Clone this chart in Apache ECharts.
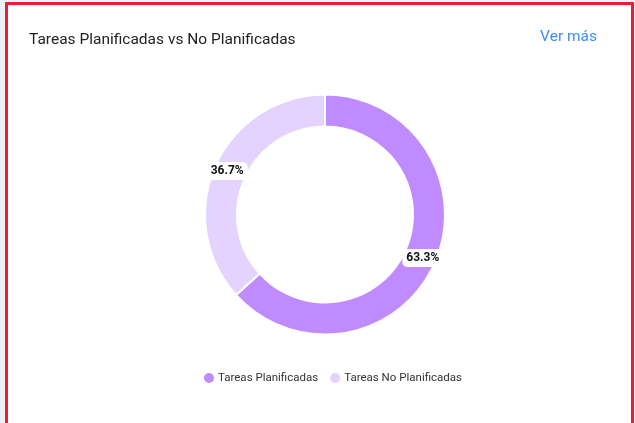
<!DOCTYPE html>
<html>
<head>
<meta charset="utf-8">
<script src="https://cdn.jsdelivr.net/npm/echarts@6/dist/echarts.min.js"></script>
<style>
  html, body { margin: 0; padding: 0; background: #eef1fa; }
  .card {
    position: absolute; left: 5px; top: 2px; width: 623px; height: 440px;
    border: 3px solid #e8202e; background: #fff; box-sizing: content-box;
  }
  #chart { position: absolute; left: 0; top: 0; width: 635px; height: 423px; }
</style>
</head>
<body>
<div class="card"></div>
<div id="chart"></div>
<script>
const titleText = 'Tareas Planificadas vs No Planificadas'
const linkText = 'Ver más'
const categories = ['Tareas Planificadas', 'Tareas No Planificadas']
const values = [63.3, 36.7]
const colors = ['#bf8bff', '#e4d3ff']

const chart = echarts.init(document.getElementById('chart'), null, { renderer: 'canvas' })

const option = {
  backgroundColor: 'transparent',
  textStyle: { fontFamily: 'Roboto' },
  title: {
    text: titleText,
    left: 24,
    top: 27,
    textStyle: { fontSize: 15.5, fontWeight: 'normal', color: '#222', fontFamily: 'Roboto' }
  },
  graphic: [{
    type: 'text',
    right: 38,
    top: 29,
    style: { text: linkText, fontSize: 15.5, fill: '#3f8cff', fontFamily: 'Roboto' }
  }],
  legend: {
    bottom: 38,
    left: 202,
    icon: 'circle',
    itemWidth: 12,
    itemHeight: 12,
    itemGap: 10,
    padding: 0,
    textStyle: { fontSize: 11.5, color: '#333', fontFamily: 'Roboto', padding: [0, 0, 0, -2] },
    data: categories
  },
  series: [{
    type: 'pie',
    center: [325, 214.5],
    radius: [88, 120],
    startAngle: 90,
    clockwise: true,
    avoidLabelOverlap: false,
    itemStyle: { borderColor: '#fff', borderWidth: 2 },
    label: {
      show: true,
      position: 'inside',
      formatter: p => p.value.toFixed(1) + '%',
      color: '#111',
      fontSize: 12,
      fontWeight: 'bold',
      fontFamily: 'Roboto',
      backgroundColor: '#fff',
      borderRadius: 5,
      padding: [3, 4]
    },
    labelLine: { show: false },
    emphasis: { disabled: true },
    data: categories.map((name, i) => ({ name, value: values[i], itemStyle: { color: colors[i] } }))
  }]
}

chart.setOption(option)
</script>
</body>
</html>
